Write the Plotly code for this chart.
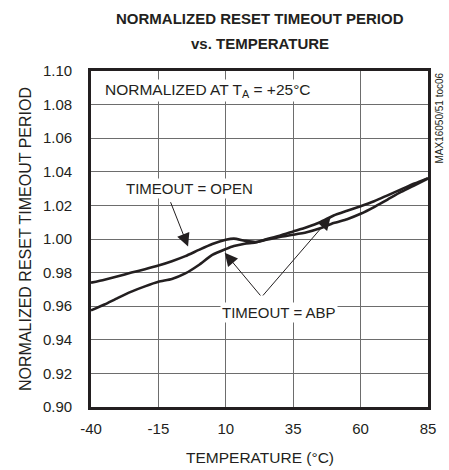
import plotly.graph_objects as go

# ---- data ----
temp_c = [-40, -35, -30, -25, -20, -15, -10, -5, 0, 5, 10, 13, 17, 21, 25,
          30, 35, 40, 45, 50, 55, 60, 65, 70, 75, 80, 85]
open_vals = [0.9740, 0.9758, 0.9778, 0.9800, 0.9820, 0.9842, 0.9868, 0.9898,
             0.9935, 0.9970, 0.9995, 1.0002, 0.9990, 0.9982, 0.9995, 1.0012,
             1.0025, 1.0040, 1.0064, 1.0095, 1.0118, 1.0150, 1.0190, 1.0235,
             1.0280, 1.0320, 1.0360]
abp_vals = [0.9575, 0.9610, 0.9650, 0.9687, 0.9718, 0.9745, 0.9762, 0.9795,
            0.9845, 0.9905, 0.9940, 0.9958, 0.9972, 0.9980, 0.9998, 1.0020,
            1.0045, 1.0070, 1.0100, 1.0140, 1.0168, 1.0195, 1.0225, 1.0260,
            1.0295, 1.0330, 1.0362]
x_ticks = [-40, -15, 10, 35, 60, 85]
y_ticks = [0.90, 0.92, 0.94, 0.96, 0.98, 1.00, 1.02, 1.04, 1.06, 1.08, 1.10]

FONT = "Liberation Sans, Arial, Helvetica, sans-serif"
INK = "#231f20"

fig = go.Figure()
for name, vals in [("TIMEOUT = OPEN", open_vals), ("TIMEOUT = ABP", abp_vals)]:
    fig.add_trace(go.Scatter(x=temp_c, y=vals, mode="lines", name=name,
                             line=dict(color=INK, width=2.6, shape="spline", smoothing=0.6),
                             showlegend=False, hoverinfo="x+y+name"))

arrow = dict(xref="x", yref="y", axref="x", ayref="y", text="", showarrow=True,
             arrowhead=2, arrowsize=2.6, arrowwidth=1, arrowcolor=INK)

annotations = [
    # chart title (two lines)
    dict(x=0.5, y=1, xref="paper", yref="paper", xanchor="center", yanchor="middle",
         yshift=53, text="<b>NORMALIZED RESET TIMEOUT PERIOD</b>",
         showarrow=False, font=dict(size=15)),
    dict(x=0.5, y=1, xref="paper", yref="paper", xanchor="center", yanchor="middle",
         yshift=28, text="<b>vs. TEMPERATURE</b>",
         showarrow=False, font=dict(size=15)),
    # axis titles
    dict(x=0, y=0.5, xref="paper", yref="paper", xanchor="center", yanchor="middle",
         xshift=-66, text="NORMALIZED RESET TIMEOUT PERIOD", textangle=-90,
         showarrow=False, font=dict(size=16)),
    dict(x=0.5, y=0, xref="paper", yref="paper", xanchor="center", yanchor="middle",
         yshift=-50, text="TEMPERATURE (°C)", showarrow=False, font=dict(size=15.5)),
    # in-plot labels
    dict(x=-35.6, y=1.0885, xref="x", yref="y", xanchor="left", yanchor="middle",
         text="NORMALIZED AT T<sub>A</sub> = +25°C", showarrow=False,
         bgcolor="white", font=dict(size=15.5)),
    dict(x=-3.6, y=1.0300, xref="x", yref="y", text="TIMEOUT = OPEN",
         showarrow=False, bgcolor="white", font=dict(size=15)),
    dict(x=29.6, y=0.9562, xref="x", yref="y", text="TIMEOUT = ABP",
         showarrow=False, bgcolor="white", font=dict(size=15)),
    # arrows
    dict(x=-4.0, y=0.9955, ax=-10.7, ay=1.0228, **arrow),
    dict(x=9.6, y=0.9918, ax=23.3, ay=0.9655, **arrow),
    dict(x=48.9, y=1.0131, ax=23.3, ay=0.9655, **arrow),
    # figure code at right edge
    dict(x=1.0, y=1.0, xref="paper", yref="paper", xanchor="center", yanchor="top",
         xshift=11, text="MAX16050/51 toc06", textangle=-90, showarrow=False,
         font=dict(size=10)),
]

fig.update_layout(
    width=449, height=470,
    margin=dict(l=91, r=21, t=71, b=63, autoexpand=False),
    paper_bgcolor="white", plot_bgcolor="white",
    font=dict(family=FONT, size=15, color=INK),
    annotations=annotations,
)
fig.update_xaxes(range=[-40, 85], tickvals=x_ticks, ticktext=[str(t) for t in x_ticks],
                 showgrid=True, gridcolor="#6d6d6d", gridwidth=1,
                 showline=True, linecolor=INK, linewidth=2.6, mirror=True,
                 ticks="", ticklabelstandoff=6, zeroline=False, automargin=False,
                 tickfont=dict(size=15))
fig.update_yaxes(range=[0.90, 1.10], tickvals=y_ticks, ticktext=[f"{v:.2f}" for v in y_ticks],
                 showgrid=True, gridcolor="#6d6d6d", gridwidth=1,
                 showline=True, linecolor=INK, linewidth=2.6, mirror=True,
                 ticks="", ticklabelstandoff=13, zeroline=False, automargin=False,
                 tickfont=dict(size=15))

fig.write_html("out.html", config={"displayModeBar": False},
               post_script="document.body.style.margin='0';document.body.style.padding='0';")
